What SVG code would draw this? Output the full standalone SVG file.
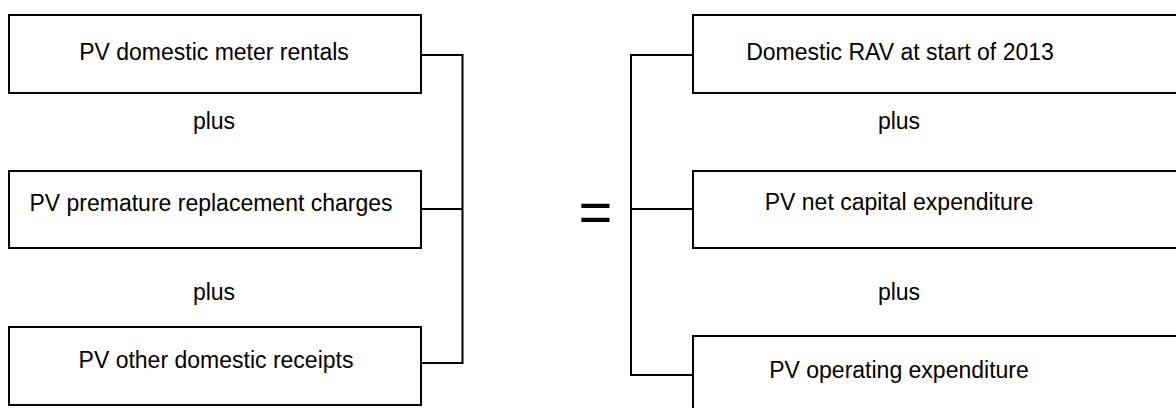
<svg xmlns="http://www.w3.org/2000/svg" width="1176" height="408" viewBox="0 0 1176 408">
<style>
.box{fill:#fff;stroke:#000;stroke-width:2}
.lbl{font-family:"Liberation Sans",Arial,sans-serif;font-size:23px;fill:#000;text-anchor:middle}
.conn{fill:none;stroke:#000;stroke-width:2}
</style>
<rect width="1176" height="408" fill="#fff"/>
<g id="connectors">
<path class="conn" d="M421 55H462.5V363H421M421 209H462.5"/>
<path class="conn" d="M693 55H631V375H693M631 209H693"/>
</g>
<g id="n1"><rect class="box" x="9" y="15" width="412" height="78"/><text class="lbl" x="214" y="60">PV domestic meter rentals</text></g>
<g id="n2"><rect class="box" x="9" y="171" width="412" height="77"/><text class="lbl" x="211" y="211">PV premature replacement charges</text></g>
<g id="n3"><rect class="box" x="9" y="327" width="412" height="78"/><text class="lbl" x="216" y="368">PV other domestic receipts</text></g>
<g id="n4"><rect class="box" x="693" y="15" width="500" height="78"/><text class="lbl" x="900" y="60">Domestic RAV at start of 2013</text></g>
<g id="n5"><rect class="box" x="693" y="171" width="500" height="77"/><text class="lbl" x="899" y="210">PV net capital expenditure</text></g>
<g id="n6"><rect class="box" x="693" y="336" width="500" height="90"/><text class="lbl" x="899" y="378">PV operating expenditure</text></g>
<text class="lbl" x="214" y="129">plus</text>
<text class="lbl" x="214" y="300">plus</text>
<text class="lbl" x="899" y="129">plus</text>
<text class="lbl" x="899" y="300">plus</text>
<text class="lbl" x="595.5" y="231.5" style="font-size:58px">=</text>
</svg>
